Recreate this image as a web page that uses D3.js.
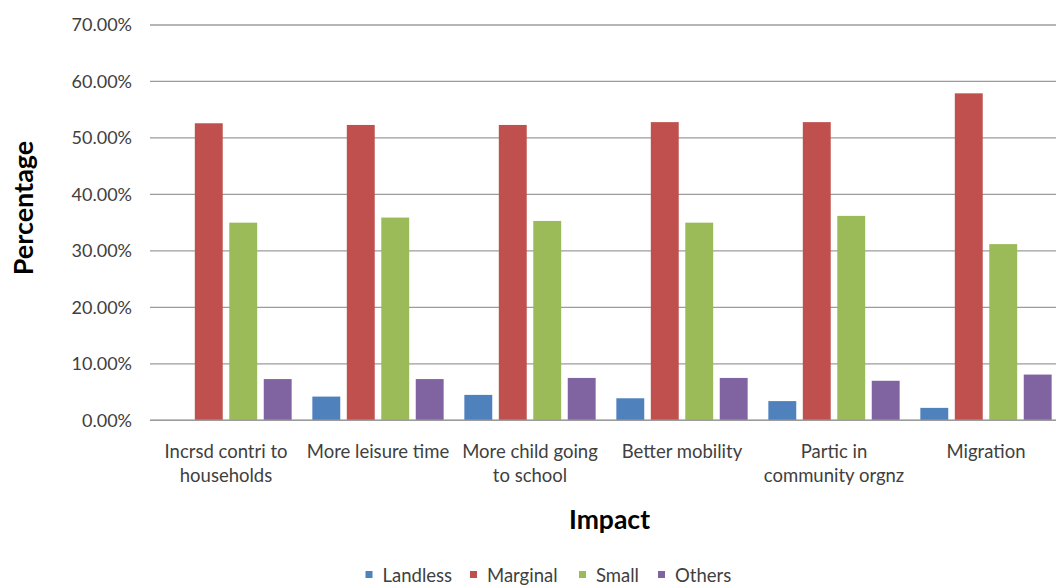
<!DOCTYPE html>
<html>
<head>
<meta charset="utf-8">
<script src="https://cdn.jsdelivr.net/npm/d3@7"></script>
<style>
  html, body { margin: 0; padding: 0; background: #fff; }
  svg { display: block; }
  text { font-family: Lato, "Open Sans", sans-serif; }
</style>
</head>
<body>
<svg id="chart" width="1056" height="585"></svg>
<script>
const categories = [
  ["Incrsd contri to", "households"],
  ["More leisure time"],
  ["More child going", "to school"],
  ["Better mobility"],
  ["Partic in", "community orgnz"],
  ["Migration"]
];
const seriesNames = ["Landless", "Marginal", "Small", "Others"];
const seriesColors = ["#4F81BD", "#C0504D", "#9BBB59", "#8064A2"];
const landless = [0.000, 0.042, 0.045, 0.039, 0.034, 0.022];
const marginal = [0.526, 0.523, 0.523, 0.528, 0.528, 0.579];
const small    = [0.350, 0.359, 0.353, 0.350, 0.362, 0.312];
const others   = [0.073, 0.073, 0.075, 0.075, 0.070, 0.081];
const yTicks = [0, 0.1, 0.2, 0.3, 0.4, 0.5, 0.6, 0.7];
const seriesValues = [landless, marginal, small, others];

const svg = d3.select("#chart");
const plotL = 150, plotR = 1062, plotT = 25, plotB = 420.3;

const catKeys = categories.map((c, i) => i);
const x0 = d3.scaleBand().domain(catKeys).range([plotL, plotR]).paddingInner(0).paddingOuter(0);
const x1 = d3.scaleBand().domain(seriesNames).range([0, x0.bandwidth()]).paddingInner(0.19).paddingOuter(0.3);
const y = d3.scaleLinear().domain([0, 0.7]).range([plotB, plotT]);

// gridlines
svg.append("g").selectAll("line").data(yTicks).join("line")
  .attr("x1", plotL).attr("x2", plotR)
  .attr("y1", d => y(d)).attr("y2", d => y(d))
  .attr("stroke", "#9c9c9c").attr("stroke-width", 1.3);

// y axis labels
const yAxis = d3.axisLeft(y).tickValues(yTicks).tickFormat(d3.format(".2%")).tickSize(0).tickPadding(0);
const yg = svg.append("g").attr("transform", `translate(${plotL - 18},0)`).call(yAxis);
yg.select(".domain").remove();
yg.selectAll("text").attr("font-size", 18).attr("fill", "#404040").attr("font-family", "Lato, sans-serif");

// bars
const groups = svg.append("g").selectAll("g").data(catKeys).join("g")
  .attr("transform", d => `translate(${x0(d)},0)`);
groups.selectAll("rect").data(ci => seriesNames.map((s, si) => ({ s, si, v: seriesValues[si][ci] })))
  .join("rect")
  .attr("x", d => x1(d.s))
  .attr("width", x1.bandwidth())
  .attr("y", d => y(d.v))
  .attr("height", d => y(0) - y(d.v))
  .attr("fill", d => seriesColors[d.si]);

// baseline
svg.append("line").attr("x1", plotL).attr("x2", plotR).attr("y1", y(0)).attr("y2", y(0))
  .attr("stroke", "#9c9c9c").attr("stroke-width", 1.5);

// x axis labels
const xl = svg.append("g");
categories.forEach((lines, i) => {
  const t = xl.append("text")
    .attr("x", x0(i) + x0.bandwidth() / 2)
    .attr("y", 458.3)
    .attr("text-anchor", "middle")
    .attr("font-size", 18.5)
    .attr("fill", "#404040");
  lines.forEach((ln, j) => {
    t.append("tspan").attr("x", x0(i) + x0.bandwidth() / 2).attr("dy", j === 0 ? 0 : 23.4).text(ln);
  });
});

// axis titles
svg.append("text").attr("x", 609.5).attr("y", 529).attr("text-anchor", "middle")
  .attr("font-size", 26.5).attr("font-weight", "bold").attr("fill", "#000").text("Impact");
svg.append("text").attr("transform", "translate(33,208) rotate(-90)").attr("text-anchor", "middle")
  .attr("font-size", 27).attr("font-weight", "bold").attr("fill", "#000").text("Percentage");

// legend
const legendX = [365.5, 470, 579, 658];
const lg = svg.append("g");
seriesNames.forEach((s, i) => {
  lg.append("rect").attr("x", legendX[i]).attr("y", 571).attr("width", 7).attr("height", 7).attr("fill", seriesColors[i]);
  lg.append("text").attr("x", legendX[i] + 17).attr("y", 581.5).attr("font-size", 18.5).attr("fill", "#404040").text(s);
});
</script>
</body>
</html>
